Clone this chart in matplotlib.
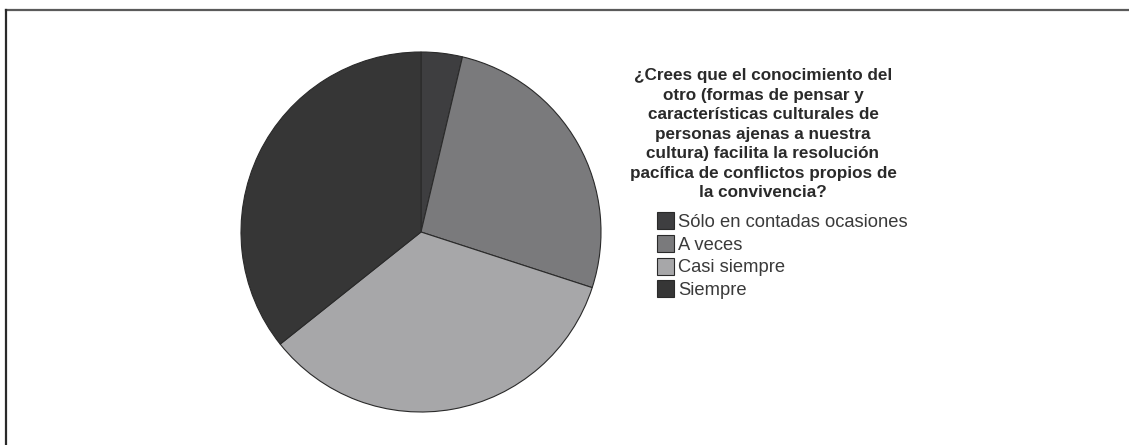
import matplotlib
matplotlib.use("Agg")
import matplotlib.pyplot as plt
from matplotlib.lines import Line2D

categories = ["Sólo en contadas ocasiones", "A veces", "Casi siempre", "Siempre"]
shares = [3.7, 26.3, 34.3, 35.7]
colors = ["#3e3e40", "#7a7a7c", "#a7a7a9", "#363636"]
title = ("¿Crees que el conocimiento del\notro (formas de pensar y\n"
         "características culturales de\npersonas ajenas a nuestra\n"
         "cultura) facilita la resolución\npacífica de conflictos propios de\n"
         "la convivencia?")

W, H = 1129, 445
fig = plt.figure(figsize=(W / 100, H / 100), dpi=100)
fig.patch.set_facecolor("white")

# pie placed by pixel geometry
cx, cy, r = 421, 232, 180
ax = fig.add_axes([(cx - r) / W, (H - cy - r) / H, 2 * r / W, 2 * r / H])
wedges, _ = ax.pie(shares, colors=colors, startangle=90, counterclock=False,
                   wedgeprops=dict(edgecolor="#2a2a2a", linewidth=0.8))
ax.set_xlim(-1.0, 1.0)
ax.set_ylim(-1.0, 1.0)
ax.set_aspect("equal")
ax.axis("off")

fig.text(763 / W, 1 - 68 / H, title, ha="center", va="top",
         fontsize=12.3, fontweight="bold", family="Liberation Sans",
         color="#2a2a2a", linespacing=1.38)

leg = fig.legend(wedges, categories, loc="upper left",
                 bbox_to_anchor=(657 / W, 1 - 212 / H),
                 frameon=False, prop=dict(family="Liberation Sans", size=13.2),
                 handlelength=0.95, handleheight=1.05, handletextpad=0.2,
                 labelspacing=0.22, borderpad=0, borderaxespad=0)
for t in leg.get_texts():
    t.set_color("#3a3a3a")

# frame lines along top and left edges
fig.add_artist(Line2D([6 / W, 1], [1 - 10 / H, 1 - 10 / H], color="#5a5a5a",
                      linewidth=1.6, transform=fig.transFigure))
fig.add_artist(Line2D([6 / W, 6 / W], [0, 1 - 10 / H], color="#2a2a2a",
                      linewidth=1.6, transform=fig.transFigure))

fig.savefig("out.png", dpi=100)
